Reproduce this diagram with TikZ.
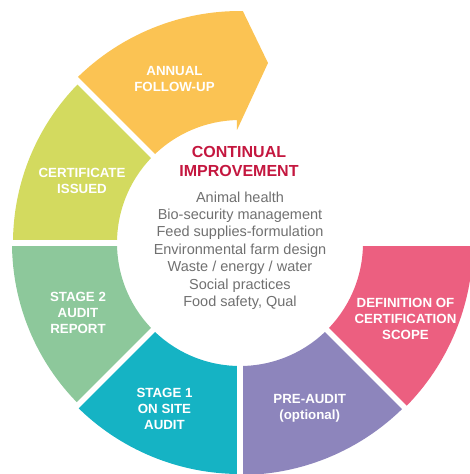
\documentclass[tikz,border=0pt]{standalone}
\usepackage{fontspec}
\setmainfont{Liberation Sans}
\definecolor{cyellow}{HTML}{FBC353}
\definecolor{clime}{HTML}{D3DA5F}
\definecolor{cgreen}{HTML}{8DC89B}
\definecolor{cteal}{HTML}{15B3C4}
\definecolor{cpurple}{HTML}{8D85BC}
\definecolor{cpink}{HTML}{EC5F80}
\definecolor{cred}{HTML}{C4173F}
\definecolor{cgray}{HTML}{707070}
\tikzset{
  steplabel/.style={text=white, font=\fontsize{13.3}{16}\selectfont\bfseries, align=center, inner sep=0pt},
  gapline/.style={white, line width=5.5pt},
}
\begin{document}
\begin{tikzpicture}[x=1pt,y=1pt]
\clip (-240,-231) rectangle (230,243);
\useasboundingbox (-240,-231) rectangle (230,243);
\coordinate (C) at (0,0);
% segments
\fill[cpink] (-45:233) arc[start angle=-45, end angle=0, radius=233] -- (0:123) arc[start angle=0, end angle=-45, radius=123] -- cycle;
\fill[cpurple] (-90:232) arc[start angle=-90, end angle=-45, radius=232] -- (-45:123) arc[start angle=-45, end angle=-90, radius=123] -- cycle;
\fill[cteal] (-135:231) arc[start angle=-135, end angle=-90, radius=231] -- (-90:123) arc[start angle=-90, end angle=-135, radius=123] -- cycle;
\fill[cgreen] (180:228) arc[start angle=180, end angle=225, radius=228] -- (225:123) arc[start angle=225, end angle=180, radius=123] -- cycle;
\fill[clime] (135:227) arc[start angle=135, end angle=180, radius=227] -- (180:123) arc[start angle=180, end angle=135, radius=123] -- cycle;
\fill[cyellow] (135:232) arc[start angle=135, end angle=89.3, radius=232] -- (28,180) -- (-3,113) -- (91.4:123) arc[start angle=91.4, end angle=135, radius=123] -- cycle;
% gaps
\foreach \a in {0,-45,-90,-135,180,135} \draw[gapline] (C) -- (\a:260);
% labels
\node[steplabel] (annual) at (-65.5,163.7) {ANNUAL\\FOLLOW-UP};
\node[steplabel] (cert) at (-158,61.7) {CERTIFICATE\\ISSUED};
\node[steplabel] (stage2) at (-162,-69.8) {STAGE 2\\AUDIT\\REPORT};
\node[steplabel] (stage1) at (-75.5,-166.2) {STAGE 1\\ON SITE\\AUDIT};
\node[steplabel] (pre) at (69.7,-165.8) {PRE-AUDIT\\(optional)};
\node[steplabel] (def) at (165.5,-75.8) {DEFINITION OF\\CERTIFICATION\\SCOPE};
% centre
\node[text=cred, font=\fontsize{16}{19}\selectfont\bfseries, align=center, inner sep=0pt] (title) at (-1,81.3) {CONTINUAL\\IMPROVEMENT};
\node[text=cgray, font=\fontsize{14.5}{17.4}\selectfont, align=center, inner sep=0pt] (list) at (0,-7.6) {Animal health\\Bio-security management\\Feed supplies-formulation\\Environmental farm design\\Waste / energy / water\\Social practices\\Food safety, Qual};
\end{tikzpicture}
\end{document}
